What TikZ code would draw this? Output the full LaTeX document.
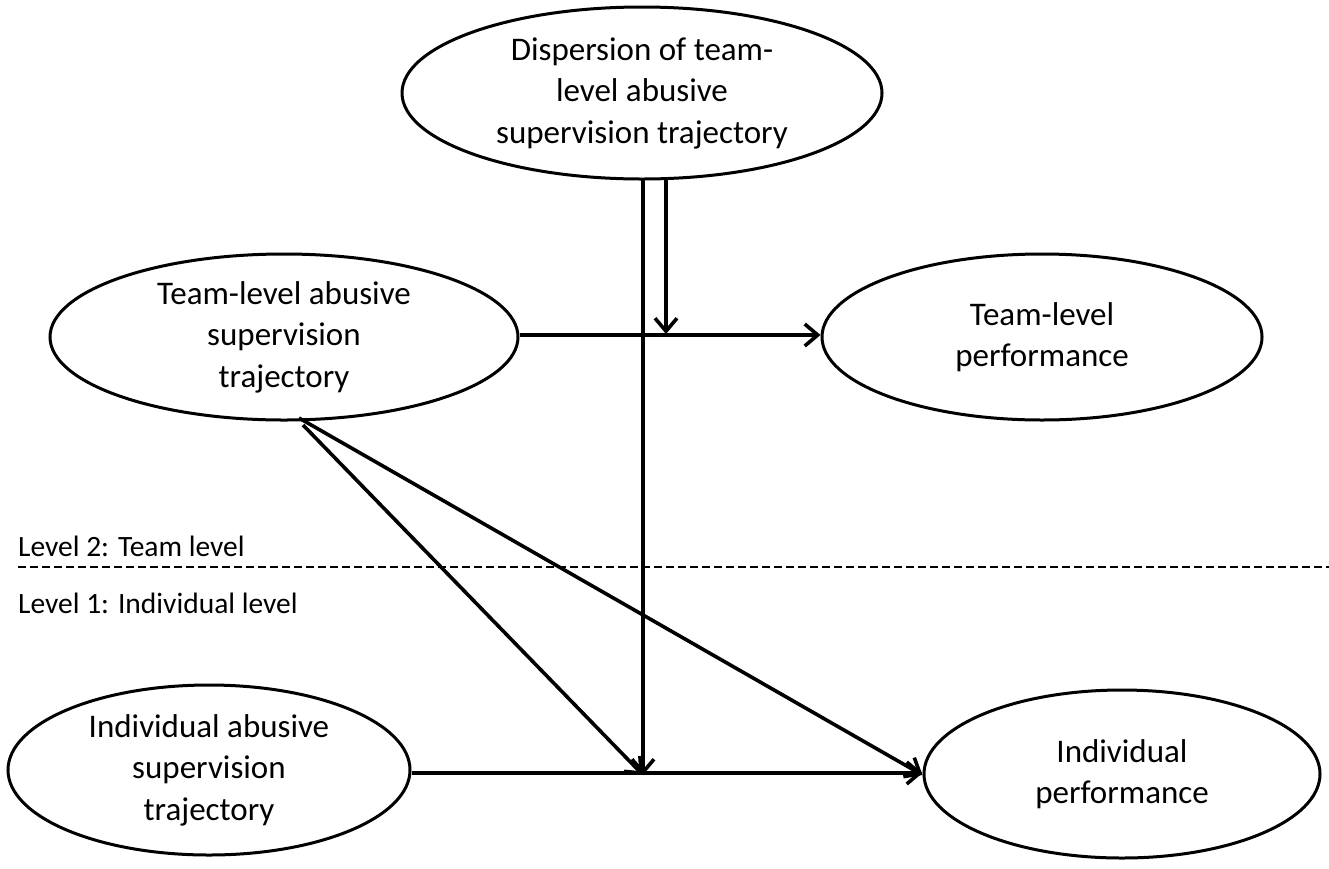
\documentclass[tikz,border=0pt]{standalone}
\usepackage{fontspec}
\setmainfont{Carlito}
\usetikzlibrary{shapes.geometric,arrows.meta}
\begin{document}
\begin{tikzpicture}[x=1pt,y=-1pt,
  oval/.style={ellipse,draw,line width=3pt,inner sep=0pt,align=center,
    font=\fontsize{33}{41.5}\selectfont},
  conn/.style={line width=3.6pt,-{Straight Barb[length=13pt,width=22pt,line width=3.6pt]}},
  lvl/.style={anchor=west,inner sep=0pt,font=\fontsize{29.5}{34}\selectfont}]
\useasboundingbox (0,0) rectangle (1329,868);

% constructs
\node[oval,minimum width=480pt,minimum height=172pt] (disp) at (642,93)
  {Dispersion of team-\\level abusive\\supervision trajectory};
\node[oval,minimum width=468pt,minimum height=166pt] (tas) at (284,337)
  {Team-level abusive\\supervision\\trajectory};
\node[oval,minimum width=440pt,minimum height=166pt] (tp) at (1042,337)
  {Team-level\\performance};
\node[oval,minimum width=402pt,minimum height=170pt] (ias) at (209,770)
  {Individual abusive\\supervision\\trajectory};
\node[oval,minimum width=396pt,minimum height=168pt] (ip) at (1122,774)
  {Individual\\performance};

% level separator
\node[lvl] (l2) at (18,546) {Level 2: Team level};
\node[lvl] (l1) at (18,603) {Level 1: Individual level};
\coordinate (sepL) at (18,567);
\coordinate (sepR) at (1329,567);
\draw[line width=2.6pt,dash pattern=on 8pt off 4pt] (sepL) -- (sepR);

% anchor points on the paths
\coordinate (d1) at (643,178);
\coordinate (d2) at (666,178);
\coordinate (mTop) at (666,334);
\coordinate (mBot) at (643,775);
\coordinate (s1) at (299,418);
\coordinate (s2) at (303,425);

% direct effects
\draw[conn] (tas.east |- 0,335) -- (tp.west |- 0,335);
\draw[conn] (ias.east |- 0,773) -- (ip.west |- 0,773);
\draw[conn] (s1) -- (ip.west |- 0,775);
\draw[conn] (s2) -- (mBot);

% moderation paths
\draw[conn] (d1) -- (mBot);
\draw[conn] (d2) -- (mTop);
\end{tikzpicture}
\end{document}
